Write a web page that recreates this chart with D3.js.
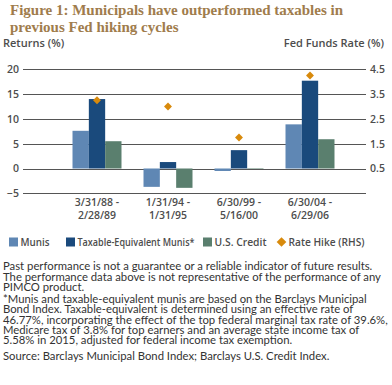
<!DOCTYPE html>
<html>
<head>
<meta charset="utf-8">
<script src="https://cdn.jsdelivr.net/npm/d3@7"></script>
<style>
  body { margin: 0; background: #fff; }
  svg { display: block; }
</style>
</head>
<body>
<div class="chart"></div>
<script>
// data
const periods = [['3/31/88 -', '2/28/89'], ['1/31/94 -', '1/31/95'], ['6/30/99 -', '5/16/00'], ['6/30/04 -', '6/29/06']]
const seriesNames = ['Munis', 'Taxable-Equivalent Munis*', 'U.S. Credit']
const munis = [7.6, -3.7, -0.5, 8.9]
const taxEqMunis = [14.0, 1.3, 3.7, 17.7]
const usCredit = [5.5, -3.9, 0.1, 5.9]
const rateHike = [3.25, 3.0, 1.75, 4.25]
const leftTicks = [-5, 0, 5, 10, 15, 20]
const rightTicks = [0.5, 1.5, 2.5, 3.5, 4.5]

const colors = ['#5f87b4', '#1a4a7c', '#5a7f6e']
const diamondColor = '#d88a0c'
const textGrey = '#4d4d4d'

var width = 392
var height = 385

var svg = d3.select('.chart').append('svg')
    .attr('width', width)
    .attr('height', height)

// title
svg.append('text')
    .attr('x', 10).attr('y', 15)
    .style('font-family', 'Liberation Serif, serif')
    .style('font-weight', 'bold')
    .style('font-size', '15px')
    .attr('fill', '#a07c4c')
    .selectAll('tspan')
    .data(['Figure 1: Municipals have outperformed taxables in', 'previous Fed hiking cycles'])
    .enter().append('tspan')
    .attr('x', 10)
    .attr('dy', (d, i) => i ? 17 : 0)
    .text(d => d)

svg.append('text').attr('x', 3).attr('y', 47)
    .style('font-family', 'Open Sans').style('font-weight', 600).style('font-size', '11px')
    .attr('fill', textGrey).text('Returns (%)')
svg.append('text').attr('x', 384).attr('y', 47).attr('text-anchor', 'end')
    .style('font-family', 'Open Sans').style('font-weight', 600).style('font-size', '11px')
    .attr('fill', textGrey).text('Fed Funds Rate (%)')

// scales
var yScale = d3.scaleLinear().domain([-5, 20]).range([193.3, 69.3])
var yRight = d3.scaleLinear().domain([-0.5, 4.5]).range([193.3, 69.3])
var xScale = d3.scaleBand().domain(d3.range(periods.length)).range([61.5, 345.5]).paddingInner(0.31).paddingOuter(0.155)
var xInner = d3.scaleBand().domain(d3.range(seriesNames.length)).range([0, xScale.bandwidth()])

// grid
var gridLeft = 23, gridRight = 366
svg.append('g').selectAll('line').data(leftTicks).enter().append('line')
    .attr('x1', gridLeft).attr('x2', gridRight)
    .attr('y1', d => Math.round(yScale(d)) + 0.5).attr('y2', d => Math.round(yScale(d)) + 0.5)
    .attr('stroke', '#555').attr('stroke-width', 1)

// left axis labels
const leftAxis = d3.axisLeft(yScale).tickValues(leftTicks).tickSize(0).tickPadding(4)
var gl = svg.append('g').attr('transform', `translate(${gridLeft}, 0)`).call(leftAxis)
gl.select('.domain').remove()
gl.selectAll('text').style('font-family', 'Open Sans').style('font-weight', 600).style('font-size', '10.5px').attr('fill', textGrey)

const rightAxis = d3.axisRight(yRight).tickValues(rightTicks).tickSize(0).tickPadding(4).tickFormat(d3.format('.1f'))
var gr = svg.append('g').attr('transform', `translate(${gridRight}, 0)`).call(rightAxis)
gr.select('.domain').remove()
gr.selectAll('text').style('font-family', 'Open Sans').style('font-weight', 600).style('font-size', '10.5px').attr('fill', textGrey)

// bars
var rows = periods.map((p, i) => [munis[i], taxEqMunis[i], usCredit[i]])
var groups = svg.append('g').selectAll('g').data(rows).enter().append('g')
    .attr('transform', (d, i) => `translate(${xScale(i)}, 0)`)
groups.selectAll('rect').data(d => d).enter().append('rect')
    .attr('x', (d, j) => xInner(j))
    .attr('width', xInner.bandwidth())
    .attr('y', d => yScale(Math.max(0, d)))
    .attr('height', d => Math.abs(yScale(d) - yScale(0)))
    .attr('fill', (d, j) => colors[j])

// rate hike diamonds
var diamond = d3.symbol().type(d3.symbolDiamond2).size(40)
svg.append('g').selectAll('path').data(rateHike).enter().append('path')
    .attr('d', diamond)
    .attr('transform', (d, i) => `translate(${xScale(i) + xInner(1) + xInner.bandwidth() / 2}, ${yRight(d)})`)
    .attr('fill', diamondColor)

// category labels
var cat = svg.append('g').selectAll('text').data(periods).enter().append('text')
    .attr('text-anchor', 'middle')
    .style('font-family', 'Open Sans').style('font-weight', 600).style('font-size', '10.5px')
    .attr('fill', textGrey)
cat.selectAll('tspan').data((d, i) => d.map(t => [t, i])).enter().append('tspan')
    .attr('x', d => xScale(d[1]) + xScale.bandwidth() / 2)
    .attr('y', (d, k) => 205.5 + k * 13.5)
    .text(d => d[0])

// legend (labels squeezed to the condensed face of the original)
var legendItems = [
    { label: 'Munis', x: 9, w: 29, color: colors[0], shape: 'rect' },
    { label: 'Taxable-Equivalent Munis*', x: 66, w: 117, color: colors[1], shape: 'rect' },
    { label: 'U.S. Credit', x: 203, w: 52, color: colors[2], shape: 'rect' },
    { label: 'Rate Hike (RHS)', x: 276, w: 76, color: diamondColor, shape: 'diamond' }
]
var lg = svg.append('g').selectAll('g').data(legendItems).enter().append('g')
    .attr('transform', d => `translate(${d.x}, 242)`)
lg.filter(d => d.shape === 'rect').append('rect')
    .attr('x', 0).attr('y', -4.5).attr('width', 9).attr('height', 9).attr('fill', d => d.color)
lg.filter(d => d.shape === 'diamond').append('path')
    .attr('d', d3.symbol().type(d3.symbolDiamond2).size(60))
    .attr('transform', 'translate(5.5, 0)')
    .attr('fill', d => d.color)
lg.append('text')
    .attr('x', d => d.shape === 'rect' ? 11.5 : 12.5)
    .attr('y', 3.8)
    .attr('textLength', d => d.w)
    .attr('lengthAdjust', 'spacingAndGlyphs')
    .style('font-family', 'Open Sans').style('font-weight', 600).style('font-size', '10.5px')
    .attr('fill', textGrey)
    .text(d => d.label)

// footnotes
const notes = [
    [266.7, 'Past performance is not a guarantee or a reliable indicator of future results.'],
    [277, 'The performance data above is not representative of the performance of any'],
    [287.3, 'PIMCO product.'],
    [299.5, '*Munis and taxable-equivalent munis are based on the Barclays Municipal'],
    [309.8, 'Bond Index. Taxable-equivalent is determined using an effective rate of'],
    [320.1, '46.77%, incorporating the effect of the top federal marginal tax rate of 39.6%,'],
    [330.4, 'Medicare tax of 3.8% for top earners and an average state income tax of'],
    [340.7, '5.58% in 2015, adjusted for federal income tax exemption.'],
    [356.5, 'Source: Barclays Municipal Bond Index; Barclays U.S. Credit Index.']
]
svg.append('g').selectAll('text').data(notes).enter().append('text')
    .attr('x', 3)
    .attr('y', d => d[0] + 3.6)
    .style('font-family', 'Lato').style('font-size', '11.3px')
    .attr('fill', '#333')
    .text(d => d[1])
</script>
</body>
</html>
